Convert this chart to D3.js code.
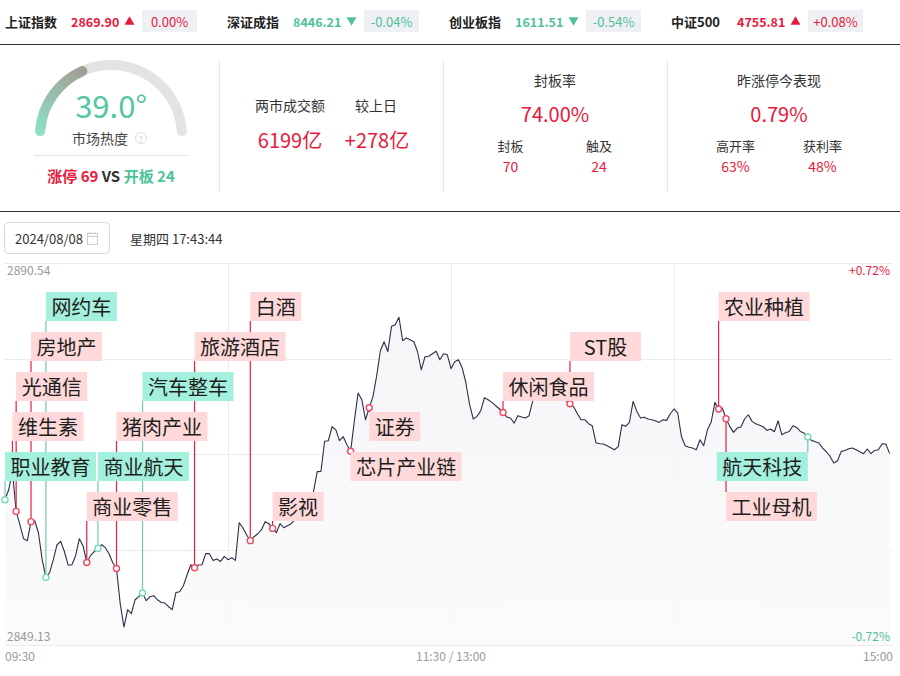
<!DOCTYPE html>
<html><head><meta charset="utf-8">
<script src="https://cdn.jsdelivr.net/npm/d3@7"></script>
<style>
body{margin:0;background:#fff}
svg{display:block;font-family:"Noto Sans CJK SC","Noto Sans",sans-serif}
</style></head>
<body>
<svg id="chart" width="900" height="676"></svg>
<script>
// Index bar
const idxNames = ['上证指数', '深证成指', '创业板指', '中证500']
const idxValues = [2869.90, 8446.21, 1611.51, 4755.81]
const idxChanges = [0.00, -0.04, -0.54, 0.08]

// Stats panel
const heat = 39.0
const limitUp = 69, openBoard = 24
const turnover = 6199, turnoverDiff = 278
const sealRate = 74.00, sealed = 70, touched = 24
const yestPerf = 0.79, highOpen = 63, profitRate = 48
const dateStr = '2024/08/08', timeStr = '星期四 17:43:44'

// Intraday line (one value per minute from 09:30)
const priceHigh = 2890.54, priceLow = 2849.13
const prices = [
  2864.88, 2865.96, 2868.02, 2863.61, 2862.17, 2860.65, 2860.44, 2862.50, 2862.60, 2861.30,
  2858.38, 2856.46, 2856.97, 2858.38, 2860.00, 2860.36, 2859.24, 2857.78, 2857.83, 2858.81,
  2860.65, 2859.89, 2858.08, 2858.81, 2859.24, 2859.60, 2860.00, 2859.68, 2859.03, 2858.05,
  2857.43, 2853.61, 2851.08, 2852.96, 2852.52, 2854.04, 2854.37, 2854.77, 2853.93, 2854.37,
  2854.47, 2854.04, 2853.77, 2853.68, 2853.28, 2852.96, 2854.83, 2854.91, 2855.56, 2856.75,
  2857.83, 2857.51, 2857.80, 2857.83, 2859.03, 2859.03, 2858.30, 2858.45, 2858.19, 2858.73,
  2858.38, 2858.59, 2858.30, 2862.39, 2861.84, 2861.09, 2860.44, 2860.87, 2861.19, 2861.63,
  2862.50, 2862.28, 2861.77, 2861.30, 2862.28, 2861.84, 2862.06, 2862.28, 2862.71, 2863.15,
  2863.58, 2864.34, 2864.88, 2865.75, 2867.92, 2867.95, 2871.22, 2871.28, 2872.79, 2872.47,
  2871.28, 2871.71, 2870.84, 2870.14, 2873.44, 2876.45, 2875.72, 2873.55, 2874.85, 2876.05,
  2878.32, 2881.03, 2882.01, 2880.92, 2883.69, 2883.85, 2884.66, 2882.12, 2882.41, 2882.22,
  2882.01, 2880.92, 2878.97, 2880.38, 2880.44, 2880.71, 2880.98, 2880.06, 2880.71, 2880.60,
  2879.08, 2879.84, 2880.06, 2879.19, 2877.56, 2875.18, 2873.63, 2873.91, 2874.53, 2875.94,
  2875.72, 2875.43, 2875.07, 2874.74, 2874.34, 2873.84, 2873.74, 2873.19, 2873.99, 2873.84,
  2873.74, 2873.99, 2875.61, 2876.80, 2877.35, 2877.02, 2877.67, 2877.24, 2876.80, 2876.59,
  2875.72, 2875.61, 2875.29, 2874.96, 2874.20, 2873.55, 2873.55, 2873.12, 2872.90, 2871.06,
  2870.95, 2870.92, 2870.73, 2870.52, 2870.30, 2870.63, 2873.01, 2872.83, 2873.26, 2875.54,
  2874.45, 2873.74, 2873.82, 2873.63, 2873.55, 2873.44, 2873.26, 2873.55, 2873.48, 2874.20,
  2874.71, 2874.28, 2871.74, 2870.73, 2870.57, 2870.48, 2870.30, 2871.38, 2870.73, 2872.47,
  2873.30, 2875.43, 2874.71, 2874.82, 2873.66, 2872.83, 2872.18, 2872.65, 2872.76, 2873.63,
  2874.09, 2873.37, 2873.12, 2872.96, 2872.79, 2872.39, 2872.54, 2872.25, 2873.44, 2871.93,
  2872.14, 2872.28, 2872.90, 2872.72, 2872.28, 2872.11, 2871.68, 2871.31, 2871.17, 2871.03,
  2870.48, 2870.08, 2869.57, 2868.86, 2869.11, 2870.12, 2870.22, 2870.41, 2870.48, 2870.30,
  2870.08, 2869.87, 2870.38, 2869.87, 2870.22, 2870.30, 2870.95, 2870.92, 2869.90
]
const timeTicks = [0, 120, 240]
const timeLabels = ['09:30', '11:30 / 13:00', '15:00']

// Sector events on the line
const evNames = ['职业教育', '维生素', '光通信', '房地产', '网约车', '商业零售', '商业航天', '猪肉产业', '汽车整车', '旅游酒店',
                 '白酒', '影视', '芯片产业链', '证券', '休闲食品', 'ST股', '农业种植', '工业母机', '航天科技']
const evMinutes = [0, 2, 3, 7, 11, 22, 25, 30, 37, 51, 66, 72, 93, 98, 134, 152, 192, 194, 216]
const evRise = [0, 1, 1, 1, 0, 1, 0, 1, 0, 1, 1, 1, 1, 1, 1, 1, 1, 1, 0]
// layout: label row for each event
const evSlot = [4, 3, 2, 1, 0, 5, 4, 3, 2, 1, 0, 5, 4, 3, 2, 1, 0, 5, 4]

const RED = '#e8193c', GREEN = '#4fc299', GREY = '#999'
const svg = d3.select('#chart')
const txt = (g, x, y, s, size, fill, opt = {}) => g.append('text')
    .attr('x', x).attr('y', y).text(s)
    .attr('font-size', size).attr('fill', fill)
    .attr('text-anchor', opt.anchor || 'start')
    .attr('dominant-baseline', 'central')
    .attr('font-weight', opt.bold ? 'bold' : 'normal')
const sign = v => (v > 0 ? '+' : '') + v.toFixed(2) + '%'

/* Index bar */
const hx = d3.scalePoint().domain(idxNames).range([5, 671])
idxNames.forEach((n, i) => {
    const s = hx(n), up = idxChanges[i] >= 0, c = up ? RED : GREEN
    const g = svg.append('g').attr('transform', `translate(${s},0)`)
    txt(g, 0, 21, n, 13, '#222', {bold: true})
    txt(g, 66, 21, idxValues[i].toFixed(2), 12.5, c, {bold: true})
    g.append('path').attr('d', d3.symbol(d3.symbolTriangle, 42)())
        .attr('fill', c)
        .attr('transform', `translate(124.5,${up ? 22 : 20}) rotate(${up ? 0 : 180})`)
    g.append('rect').attr('x', 137).attr('y', 10).attr('width', 55).attr('height', 22).attr('fill', '#eff0f4')
    txt(g, 164.5, 21, sign(idxChanges[i]), 13, c, {anchor: 'middle'})
})
svg.append('line').attr('x1', 0).attr('x2', 900).attr('y1', 44.5).attr('y2', 44.5).attr('stroke', '#333').attr('stroke-width', 1.2)

/* Gauge */
const gauge = svg.append('g').attr('transform', 'translate(111,136)')
const defs = svg.append('defs')
const gg = defs.append('linearGradient').attr('id', 'gaugeGrad').attr('gradientUnits', 'userSpaceOnUse')
    .attr('x1', -71).attr('y1', 0).attr('x2', -22).attr('y2', -68)
gg.append('stop').attr('offset', 0).attr('stop-color', '#8be3c7')
gg.append('stop').attr('offset', 1).attr('stop-color', '#a49a92')
const arc = d3.arc().innerRadius(66).outerRadius(76).cornerRadius(5)
gauge.append('path').attr('d', arc({startAngle: -Math.PI / 2, endAngle: Math.PI / 2})).attr('fill', '#e3e3e3')
gauge.append('path').attr('d', arc({startAngle: -Math.PI / 2, endAngle: -Math.PI / 2 + Math.PI * heat / 100}))
    .attr('fill', 'url(#gaugeGrad)')
txt(gauge, 0, -32, heat.toFixed(1) + '°', 31, '#52c7a0', {anchor: 'middle'})
txt(gauge, -11, 2, '市场热度', 14, '#444', {anchor: 'middle'})
gauge.append('circle').attr('cx', 30).attr('cy', 2).attr('r', 5.5).attr('fill', 'none').attr('stroke', '#ddd')
txt(gauge, 30, 2, '?', 8, '#ccc', {anchor: 'middle'})
svg.append('line').attr('x1', 34).attr('x2', 189).attr('y1', 155.5).attr('y2', 155.5).attr('stroke', '#e3e3e3')
const vs = svg.append('text').attr('x', 111).attr('y', 175).attr('text-anchor', 'middle')
    .attr('dominant-baseline', 'central').attr('font-size', 15).attr('font-weight', 'bold')
vs.append('tspan').attr('fill', RED).text(`涨停 ${limitUp} `)
vs.append('tspan').attr('fill', '#333').text('VS ')
vs.append('tspan').attr('fill', GREEN).text(`开板 ${openBoard}`)

/* Stats blocks */
;[219.5, 443.5, 667.5].forEach(xv => svg.append('line').attr('x1', xv).attr('x2', xv)
    .attr('y1', 60).attr('y2', 192).attr('stroke', '#e6e6e6'))
const st = svg.append('g')
txt(st, 290, 105, '两市成交额', 14, '#333', {anchor: 'middle'})
txt(st, 376, 105, '较上日', 14, '#333', {anchor: 'middle'})
txt(st, 290, 139, turnover + '亿', 20, RED, {anchor: 'middle'})
txt(st, 377, 139, '+' + turnoverDiff + '亿', 20, RED, {anchor: 'middle'})

txt(st, 555, 80, '封板率', 14, '#333', {anchor: 'middle'})
txt(st, 555, 113, sealRate.toFixed(2) + '%', 20, RED, {anchor: 'middle'})
txt(st, 510.5, 145, '封板', 13, '#333', {anchor: 'middle'})
txt(st, 510.5, 166, sealed, 14, RED, {anchor: 'middle'})
txt(st, 599, 145, '触及', 13, '#333', {anchor: 'middle'})
txt(st, 599, 166, touched, 14, RED, {anchor: 'middle'})

txt(st, 779, 80, '昨涨停今表现', 14, '#333', {anchor: 'middle'})
txt(st, 779, 113, yestPerf.toFixed(2) + '%', 20, RED, {anchor: 'middle'})
txt(st, 735.5, 145, '高开率', 13, '#333', {anchor: 'middle'})
txt(st, 735.5, 166, highOpen + '%', 14, RED, {anchor: 'middle'})
txt(st, 822.5, 145, '获利率', 13, '#333', {anchor: 'middle'})
txt(st, 822.5, 166, profitRate + '%', 14, RED, {anchor: 'middle'})

svg.append('line').attr('x1', 0).attr('x2', 900).attr('y1', 211.5).attr('y2', 211.5).attr('stroke', '#333').attr('stroke-width', 1.2)

/* Date bar */
svg.append('rect').attr('x', 4.5).attr('y', 222.5).attr('width', 105).attr('height', 31).attr('rx', 4)
    .attr('fill', '#fff').attr('stroke', '#d9d9d9')
txt(svg, 15, 238.5, dateStr, 13, '#333')
const cal = svg.append('g').attr('transform', 'translate(87,232)').attr('stroke', '#ccc').attr('fill', 'none')
cal.append('rect').attr('x', 0.5).attr('y', 1.5).attr('width', 10).attr('height', 11)
cal.append('line').attr('x1', 0.5).attr('x2', 10.5).attr('y1', 4.5).attr('y2', 4.5)
cal.append('line').attr('x1', 3).attr('x2', 3).attr('y1', 0).attr('y2', 2)
cal.append('line').attr('x1', 8).attr('x2', 8).attr('y1', 0).attr('y2', 2)
txt(svg, 130, 238, timeStr, 13, '#333')

/* Chart */
const plotL = 5, plotR = 893, plotT = 263, plotB = 645
const x = d3.scaleLinear().domain([0, 240]).range([plotL, 897])
const y = d3.scaleLinear().domain([priceLow, priceHigh]).range([plotB, plotT])
const preClose = (priceHigh + priceLow) / 2
const pct = (priceHigh - preClose) / preClose * 100

const grid = svg.append('g').attr('stroke', '#ebebeb')
d3.range(5).map(k => priceLow + k * (priceHigh - priceLow) / 4).forEach(v =>
    grid.append('line').attr('x1', plotL).attr('x2', plotR).attr('y1', Math.round(y(v)) + 0.5).attr('y2', Math.round(y(v)) + 0.5))
;[60, 120, 180].forEach(t =>
    grid.append('line').attr('x1', Math.round(x(t)) + 0.5).attr('x2', Math.round(x(t)) + 0.5).attr('y1', plotT).attr('y2', plotB))

const ag = defs.append('linearGradient').attr('id', 'areaGrad').attr('x1', 0).attr('x2', 0).attr('y1', 0).attr('y2', 1)
ag.append('stop').attr('offset', 0).attr('stop-color', '#f3f4f7')
ag.append('stop').attr('offset', 1).attr('stop-color', '#fafafa')
svg.append('path').datum(prices)
    .attr('d', d3.area().x((d, i) => x(i)).y0(plotB).y1(d => y(d)))
    .attr('fill', 'url(#areaGrad)').attr('fill-opacity', 0.85)
svg.append('path').datum(prices)
    .attr('d', d3.line().x((d, i) => x(i)).y(d => y(d)))
    .attr('fill', 'none').attr('stroke', '#2b2f47').attr('stroke-width', 1.1).attr('stroke-linejoin', 'round')

// axis labels
const ax = svg.append('g')
txt(ax, 7, 269, priceHigh.toFixed(2), 12, GREY)
txt(ax, 7, 635, priceLow.toFixed(2), 12, GREY)
txt(ax, 890, 269, '+' + pct.toFixed(2) + '%', 12, RED, {anchor: 'end'})
txt(ax, 890, 635, '-' + pct.toFixed(2) + '%', 12, GREEN, {anchor: 'end'})
timeTicks.forEach((t, i) => txt(ax, i === 2 ? plotR : x(t), 655, timeLabels[i], 12, GREY,
    {anchor: i === 0 ? 'start' : i === 1 ? 'middle' : 'end'}))

// events
const rowTop = k => plotT + 29 + 40 * k, boxH = 29
const ev = evNames.map((n, i) => {
    const px = x(evMinutes[i]), py = y(prices[evMinutes[i]])
    const w = n.length * 20 + 11, top = rowTop(evSlot[i])
    const bx = px + w > plotR ? px - w : px
    return {n, px, py, w, top, bx, rise: evRise[i]}
})
const stems = svg.append('g'), dots = svg.append('g'), labels = svg.append('g')
ev.forEach(d => {
    const c = d.rise ? '#e8203f' : '#6ccaa8'
    const y1 = d.top + boxH < d.py ? d.top + boxH : d.top
    stems.append('line').attr('x1', d.px).attr('x2', d.px).attr('y1', y1).attr('y2', d.py)
        .attr('stroke', c).attr('stroke-width', 1.2)
    dots.append('circle').attr('cx', d.px).attr('cy', d.py).attr('r', 3)
        .attr('fill', '#fff').attr('stroke', d.rise ? '#f04a62' : '#7ad8b8').attr('stroke-width', 1.4)
    labels.append('rect').attr('x', d.bx).attr('y', d.top).attr('width', d.w).attr('height', boxH)
        .attr('fill', d.rise ? '#ffd9da' : '#a3f0dc')
    txt(labels, d.bx + d.w / 2, d.top + boxH / 2, d.n, 20, '#1e1e1e', {anchor: 'middle'})
})
</script>
</body></html>
